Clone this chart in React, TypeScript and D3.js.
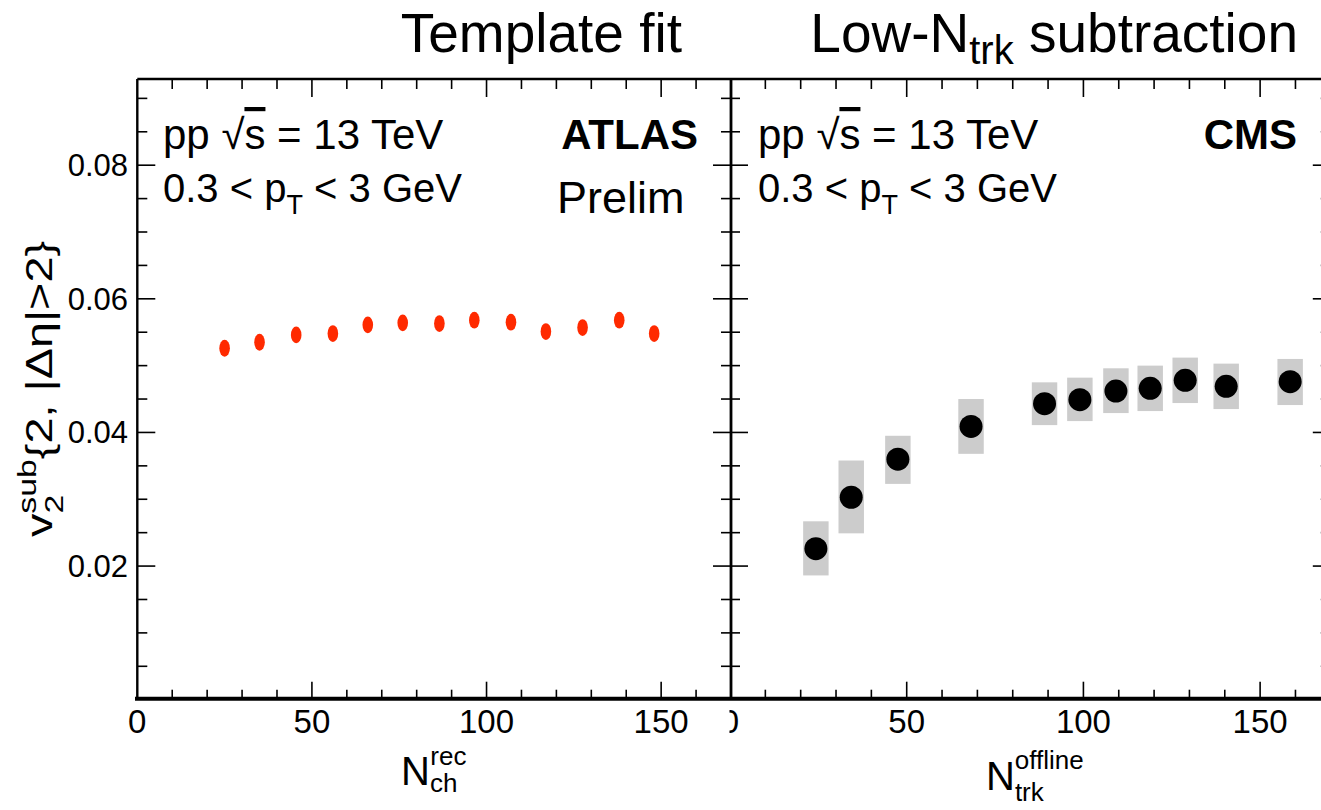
import React from 'react';
import * as d3 from 'd3';

const W = 1321;
const H = 810;

// ATLAS template-fit v2 vs N_ch^rec
const atlasNch = [25, 35, 45.5, 56, 66, 76, 86.5, 96.5, 107, 117, 127.5, 138, 148];
const atlasV2 = [0.0526, 0.0535, 0.0546, 0.0548, 0.0561, 0.0564, 0.0563, 0.0568, 0.0565, 0.0551, 0.0557, 0.0568, 0.0548];

// CMS low-Ntrk subtraction v2 vs N_trk^offline, with systematic bands
const cmsNtrk = [24.3, 34.3, 47.5, 68.2, 89, 99, 109.2, 118.9, 128.8, 140.4, 158.5];
const cmsV2 = [0.0226, 0.0303, 0.036, 0.0409, 0.0443, 0.0449, 0.0462, 0.0466, 0.0478, 0.0469, 0.0476];
const cmsSysLow = [0.0186, 0.0249, 0.0323, 0.0368, 0.0411, 0.0417, 0.0429, 0.0432, 0.0444, 0.0435, 0.0441];
const cmsSysHigh = [0.0267, 0.0358, 0.0395, 0.045, 0.0475, 0.0482, 0.0496, 0.05, 0.0512, 0.0503, 0.051];

const yTickLabels = [0.02, 0.04, 0.06, 0.08];
const xTickLabels = [0, 50, 100, 150];

const FONT = '"Liberation Sans", Arial, Helvetica, sans-serif';

const yScale = d3.scaleLinear().domain([0, 0.0929]).range([699.7, 79]);
const xLeft = d3.scaleLinear().domain([0, 170]).range([137.3, 731]);
const xRight = d3.scaleLinear().domain([0, 170]).range([730, 1330.8]);

const yMinor = d3.range(1, 19).map((i) => ({ v: i * 0.005, major: i % 4 === 0 }));
const xMinor = d3.range(1, 17).map((i) => ({ v: i * 10, major: i % 5 === 0 }));

const MAJ = 18;
const MIN = 10;

function Frame({ x, left, right }: { x: d3.ScaleLinear<number, number>; left: number; right: number }) {
  const top = yScale.range()[1];
  const bottom = yScale.range()[0];
  return (
    <g stroke="#000" strokeWidth={1.6}>
      {yMinor.map((t, i) => {
        const y = yScale(t.v);
        const len = t.major ? MAJ : MIN;
        return (
          <g key={'y' + i}>
            <line x1={left} x2={left + len} y1={y} y2={y} />
            <line x1={right} x2={right - len} y1={y} y2={y} />
          </g>
        );
      })}
      {xMinor.map((t, i) => {
        const xx = x(t.v);
        const len = t.major ? MAJ : MIN;
        return (
          <g key={'x' + i}>
            <line x1={xx} x2={xx} y1={bottom} y2={bottom - len} />
            <line x1={xx} x2={xx} y1={top} y2={top + len} />
          </g>
        );
      })}
    </g>
  );
}

export default function App() {
  const top = yScale.range()[1];
  const bottom = yScale.range()[0];
  const boxHalf = 3.6;

  return (
    <svg
      width={W}
      height={H}
      viewBox={`0 0 ${W} ${H}`}
      style={{ position: 'absolute', left: 0, top: 0, display: 'block', background: '#fff' }}
      fontFamily={FONT}
    >
      <defs>
        <clipPath id="rightPanelClip">
          <rect x={729.5} y={0} width={W - 729.5} height={H} />
        </clipPath>
      </defs>
      <rect x={0} y={0} width={W} height={H} fill="#fff" />

      {/* headings */}
      <text x={682} y={52} fontSize={55} textAnchor="end">Template fit</text>
      <text x={1298} y={52} fontSize={55} textAnchor="end">
        Low-N<tspan fontSize={40} dy={12}>trk</tspan>
        <tspan dy={-12}> subtraction</tspan>
      </text>

      {/* right panel marks */}
      <g>
        {cmsNtrk.map((n, i) => (
          <rect
            key={'b' + i}
            x={xRight(n - boxHalf)}
            width={xRight(n + boxHalf) - xRight(n - boxHalf)}
            y={yScale(cmsSysHigh[i])}
            height={yScale(cmsSysLow[i]) - yScale(cmsSysHigh[i])}
            fill="#cccccc"
          />
        ))}
        {cmsNtrk.map((n, i) => (
          <circle key={'c' + i} cx={xRight(n)} cy={yScale(cmsV2[i])} r={11.5} fill="#000" />
        ))}
      </g>

      {/* left panel marks */}
      <g>
        {atlasNch.map((n, i) => (
          <ellipse key={'a' + i} cx={xLeft(n)} cy={yScale(atlasV2[i])} rx={5.3} ry={8.4} fill="#ff2a00" />
        ))}
      </g>

      {/* ticks */}
      <Frame x={xLeft} left={xLeft(0)} right={xLeft(170)} />
      <Frame x={xRight} left={xRight(0)} right={xRight(170)} />

      {/* frame lines */}
      <line x1={xLeft(0)} x2={W} y1={top} y2={top} stroke="#000" strokeWidth={2.6} />
      <line x1={xLeft(0)} x2={xLeft(0)} y1={top} y2={bottom} stroke="#000" strokeWidth={2.4} />
      <line x1={731} x2={731} y1={top} y2={bottom} stroke="#000" strokeWidth={2.8} />
      <line x1={135} x2={W} y1={bottom - 1} y2={bottom - 1} stroke="#000" strokeWidth={4} />

      {/* y tick labels */}
      {yTickLabels.map((v) => (
        <text key={'yl' + v} x={128} y={yScale(v) + 11} fontSize={31} textAnchor="end">
          {v.toFixed(2)}
        </text>
      ))}

      {/* x tick labels */}
      {xTickLabels.map((v) => (
        <text key={'xl' + v} x={xLeft(v)} y={733} fontSize={33} textAnchor="middle">
          {v}
        </text>
      ))}
      <g clipPath="url(#rightPanelClip)">
        {xTickLabels.map((v) => (
          <text key={'xr' + v} x={xRight(v)} y={733} fontSize={33} textAnchor="middle">
            {v}
          </text>
        ))}
      </g>

      {/* panel annotations */}
      <text x={163} y={149} fontSize={42}>
        pp  √<tspan style={{ textDecoration: 'overline' }}>s</tspan> = 13 TeV
      </text>
      <text x={163} y={202} fontSize={40}>
        0.3 &lt; p<tspan fontSize={27} dy={12}>T</tspan>
        <tspan dy={-12}> &lt; 3 GeV</tspan>
      </text>
      <text x={698} y={149} fontSize={42} fontWeight="bold" textAnchor="end">ATLAS</text>
      <text x={557} y={213} fontSize={45}>Prelim</text>

      <text x={758} y={149} fontSize={42}>
        pp  √<tspan style={{ textDecoration: 'overline' }}>s</tspan> = 13 TeV
      </text>
      <text x={758} y={202} fontSize={40}>
        0.3 &lt; p<tspan fontSize={27} dy={12}>T</tspan>
        <tspan dy={-12}> &lt; 3 GeV</tspan>
      </text>
      <text x={1297} y={149} fontSize={42} fontWeight="bold" textAnchor="end">CMS</text>

      {/* axis titles */}
      <text x={401} y={785} fontSize={40}>
        N<tspan fontSize={26} dy={7}>ch</tspan>
        <tspan fontSize={26} dx={-27} dy={-27}>rec</tspan>
      </text>
      <text x={986} y={790} fontSize={40}>
        N<tspan fontSize={26} dy={11}>trk</tspan>
        <tspan fontSize={26} dx={-29} dy={-32}>offline</tspan>
      </text>

      <g transform="translate(52,537) rotate(-90) scale(1.3,1)">
        <text x={0} y={0} fontSize={36}>
          v<tspan fontSize={26} dy={11}>2</tspan>
          <tspan fontSize={26} dx={-14.5} dy={-27}>sub</tspan>
          <tspan dy={16}>{'{2, |Δη|>2}'}</tspan>
        </text>
      </g>
    </svg>
  );
}
